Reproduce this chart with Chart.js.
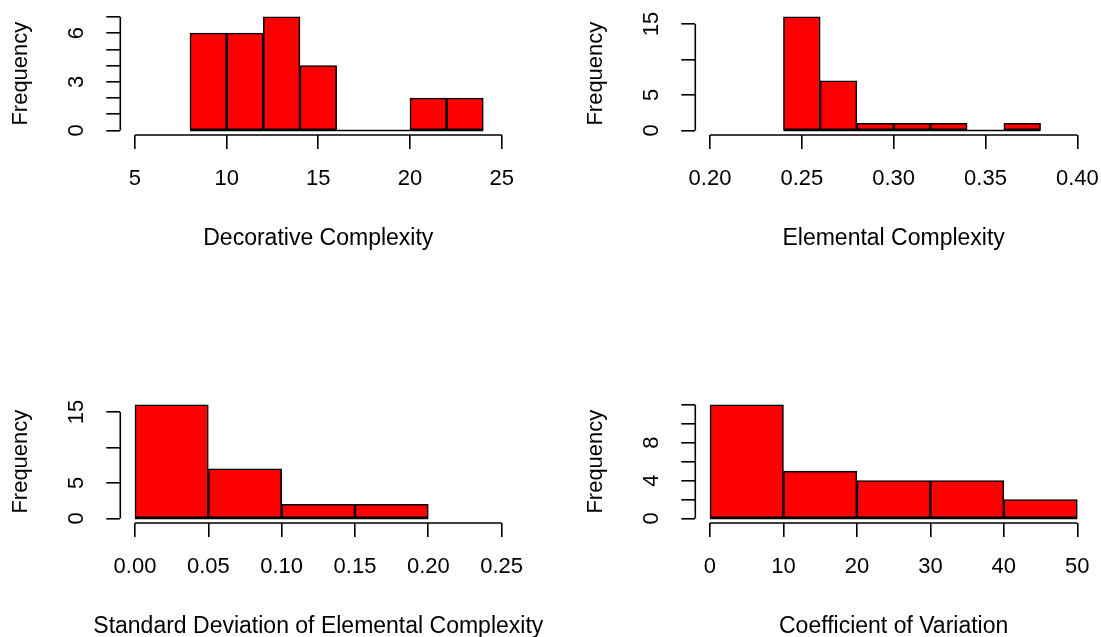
<!DOCTYPE html>
<html>
<head>
<meta charset="utf-8">
<script src="https://cdn.jsdelivr.net/npm/chart.js@4.4.1/dist/chart.umd.min.js"></script>
<style>
  html, body { margin: 0; padding: 0; background: #fff; overflow: hidden; }
  canvas { position: absolute; }
</style>
</head>
<body>
<canvas id="h1" width="575" height="260" style="left:0;top:0"></canvas>
<canvas id="h2" width="526" height="260" style="left:575px;top:0"></canvas>
<canvas id="h3" width="575" height="260" style="left:0;top:388px"></canvas>
<canvas id="h4" width="526" height="260" style="left:575px;top:388px"></canvas>
<script>
// Decorative Complexity
const decorativeBreaks = [8, 10, 12, 14, 16, 18, 20, 22, 24];
const decorativeCounts = [6, 6, 7, 4, 0, 0, 2, 2];
const decorativeXTicks = [5, 10, 15, 20, 25];
const decorativeXLabels = ['5', '10', '15', '20', '25'];
const decorativeYTicks = [0, 1, 2, 3, 4, 5, 6, 7];
const decorativeYLabels = ['0', '', '', '3', '', '', '6', ''];

// Elemental Complexity
const elementalBreaks = [0.24, 0.26, 0.28, 0.30, 0.32, 0.34, 0.36, 0.38];
const elementalCounts = [16, 7, 1, 1, 1, 0, 1];
const elementalXTicks = [0.20, 0.25, 0.30, 0.35, 0.40];
const elementalXLabels = ['0.20', '0.25', '0.30', '0.35', '0.40'];
const elementalYTicks = [0, 5, 10, 15];
const elementalYLabels = ['0', '5', '', '15'];

// Standard Deviation of Elemental Complexity
const sdBreaks = [0, 0.05, 0.10, 0.15, 0.20];
const sdCounts = [16, 7, 2, 2];
const sdXTicks = [0, 0.05, 0.10, 0.15, 0.20, 0.25];
const sdXLabels = ['0.00', '0.05', '0.10', '0.15', '0.20', '0.25'];
const sdYTicks = [0, 5, 10, 15];
const sdYLabels = ['0', '5', '', '15'];

// Coefficient of Variation
const cvBreaks = [0, 10, 20, 30, 40, 50];
const cvCounts = [12, 5, 4, 4, 2];
const cvXTicks = [0, 10, 20, 30, 40, 50];
const cvXLabels = ['0', '10', '20', '30', '40', '50'];
const cvYTicks = [0, 2, 4, 6, 8, 10, 12];
const cvYLabels = ['0', '', '4', '', '8', '', ''];

const FONT = "'Liberation Sans', Arial, sans-serif";
Chart.defaults.font.family = FONT;
Chart.defaults.font.size = 22;
Chart.defaults.color = '#000';

// R-style axis lines (first to last tick only) and the x title, which
// Chart.js would squeeze to the axis width
const rAxes = {
  id: 'rAxes',
  afterDraw(chart, args, opts) {
    const { ctx, chartArea, scales: { x, y } } = chart;
    const xt = x.ticks, yt = y.ticks;
    ctx.save();
    ctx.strokeStyle = '#000';
    ctx.lineWidth = 1.6;
    ctx.beginPath();
    ctx.moveTo(x.getPixelForValue(xt[0].value), chartArea.bottom);
    ctx.lineTo(x.getPixelForValue(xt[xt.length - 1].value), chartArea.bottom);
    ctx.moveTo(chartArea.left, y.getPixelForValue(yt[0].value));
    ctx.lineTo(chartArea.left, y.getPixelForValue(yt[yt.length - 1].value));
    ctx.stroke();

    ctx.fillStyle = '#000';
    ctx.font = '23px ' + FONT;
    ctx.textAlign = 'center';
    ctx.textBaseline = 'middle';
    ctx.fillText(opts.text, (chartArea.left + chartArea.right) / 2, chartArea.bottom + 104);
    ctx.restore();
  }
};

// R pads the axis range by 4% on each side
function widen(lo, hi) {
  const d = (hi - lo) * 0.04;
  return [lo - d, hi + d];
}

function hist(id, breaks, counts, xTicks, xLabels, yTicks, yLabels, xTitle, rightPad, yPad) {
  const bars = counts.map((c, i) => ({ x: (breaks[i] + breaks[i + 1]) / 2, y: c }));
  const xr = widen(xTicks[0], xTicks[xTicks.length - 1]);
  const yr = widen(0, Math.max(...counts));

  new Chart(document.getElementById(id), {
    type: 'bar',
    data: {
      datasets: [
        {
          data: bars,
          backgroundColor: '#ff0000',
          borderColor: '#000',
          borderWidth: 1.6,
          borderSkipped: false,
          barPercentage: 1,
          categoryPercentage: 1,
          order: 2
        },
        {
          type: 'line',
          data: [{ x: breaks[0], y: 0 }, { x: breaks[breaks.length - 1], y: 0 }],
          borderColor: '#000',
          borderWidth: 1.6,
          pointRadius: 0,
          order: 1
        }
      ]
    },
    options: {
      responsive: false,
      animation: false,
      layout: { padding: { left: 0, top: 12.3, right: rightPad, bottom: 0 } },
      plugins: {
        legend: { display: false },
        tooltip: { enabled: false },
        rAxes: { text: xTitle }
      },
      scales: {
        x: {
          type: 'linear',
          min: xr[0],
          max: xr[1],
          offset: false,
          afterBuildTicks: s => { s.ticks = xTicks.map(v => ({ value: v })); },
          afterFit: s => { s.height = 260 - 135; s.paddingLeft = 0; s.paddingRight = 0; },
          ticks: {
            autoSkip: false,
            maxRotation: 0,
            padding: 17,
            callback: (v, i) => xLabels[i]
          },
          grid: { offset: false, drawOnChartArea: false, drawTicks: true, tickLength: 14, color: '#000', lineWidth: 1.6 },
          border: { display: false }
        },
        y: {
          min: yr[0],
          max: yr[1],
          afterBuildTicks: s => { s.ticks = yTicks.map(v => ({ value: v })); },
          afterFit: s => { s.width = 120.3; s.paddingTop = 0; s.paddingBottom = 0; },
          ticks: {
            autoSkip: false,
            minRotation: 90,
            maxRotation: 90,
            crossAlign: 'center',
            padding: yPad,
            callback: (v, i) => yLabels[i]
          },
          grid: { offset: false, drawOnChartArea: false, drawTicks: true, tickLength: 14, color: '#000', lineWidth: 1.6 },
          border: { display: false },
          title: { display: true, text: 'Frequency', padding: { top: 8, bottom: 0 } }
        }
      }
    },
    plugins: [rAxes]
  });
}

hist('h1', decorativeBreaks, decorativeCounts, decorativeXTicks, decorativeXLabels,
  decorativeYTicks, decorativeYLabels, 'Decorative Complexity', 58.7, 23);
hist('h2', elementalBreaks, elementalCounts, elementalXTicks, elementalXLabels,
  elementalYTicks, elementalYLabels, 'Elemental Complexity', 9, 17);
hist('h3', sdBreaks, sdCounts, sdXTicks, sdXLabels,
  sdYTicks, sdYLabels, 'Standard Deviation of Elemental Complexity', 58.7, 17);
hist('h4', cvBreaks, cvCounts, cvXTicks, cvXLabels,
  cvYTicks, cvYLabels, 'Coefficient of Variation', 9, 23);
</script>
</body>
</html>
